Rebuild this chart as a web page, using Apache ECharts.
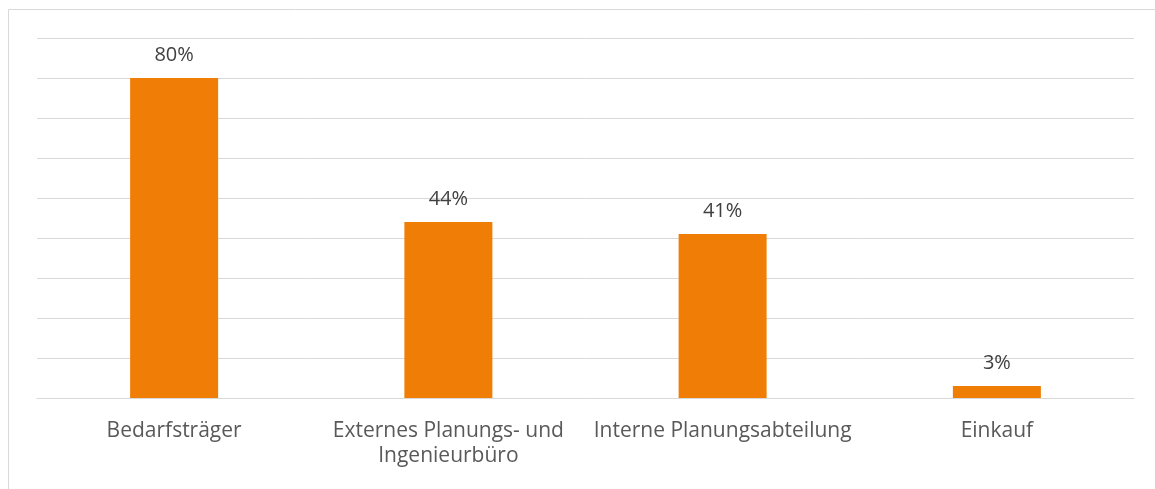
<!DOCTYPE html>
<html>
<head>
<meta charset="utf-8">
<script src="https://cdn.jsdelivr.net/npm/echarts@6/dist/echarts.min.js"></script>
<style>
  html, body { margin: 0; padding: 0; background: #fff; }
  #main { width: 1155px; height: 489px; }
</style>
</head>
<body>
<div id="main"></div>
<script type="text/javascript">
    // Daten
    var categories = ['Bedarfsträger', 'Externes Planungs- und\nIngenieurbüro', 'Interne Planungsabteilung', 'Einkauf'];
    var anteile = [80, 44, 41, 3];
    var yTicks = [0, 10, 20, 30, 40, 50, 60, 70, 80, 90];

    var myChart = echarts.init(document.getElementById('main'));

    var option = {
        animation: false,
        textStyle: { fontFamily: 'Open Sans' },
        graphic: [{
            type: 'rect',
            shape: { x: 8.5, y: 9.5, width: 1160, height: 490 },
            style: { fill: 'none', stroke: '#d9d9d9', lineWidth: 1 },
            silent: true
        }],
        grid: {
            left: 37,
            right: 21,
            top: 38,
            bottom: 91
        },
        xAxis: {
            type: 'category',
            data: categories,
            axisLine: { lineStyle: { color: '#d9d9d9', width: 1 } },
            axisTick: { show: false },
            axisLabel: {
                color: '#595959',
                fontSize: 21,
                margin: 21,
                lineHeight: 25,
                interval: 0
            }
        },
        yAxis: {
            type: 'value',
            min: yTicks[0],
            max: yTicks[yTicks.length - 1],
            interval: 10,
            axisLabel: { show: false },
            axisLine: { show: false },
            axisTick: { show: false },
            splitLine: { lineStyle: { color: '#d9d9d9', width: 1 } }
        },
        series: [{
            name: 'Anteil',
            type: 'bar',
            data: anteile,
            barWidth: 88,
            itemStyle: { color: '#f07d06' },
            label: {
                show: true,
                position: 'top',
                distance: 13,
                color: '#404040',
                fontSize: 20,
                formatter: '{c}%'
            }
        }]
    };

    myChart.setOption(option);
</script>
</body>
</html>
